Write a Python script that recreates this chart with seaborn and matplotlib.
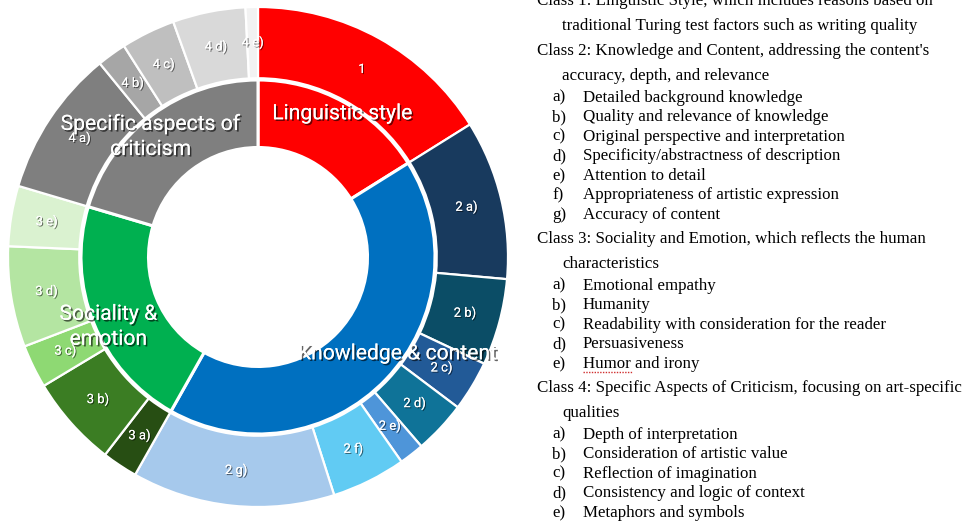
import numpy as np
import matplotlib
matplotlib.use("Agg")
import matplotlib.pyplot as plt
import matplotlib.patheffects as pe
import seaborn as sns

# ---------------- data ----------------
inner_labels = ["Linguistic style", "Knowledge & content", "Sociality &\nemotion",
                "Specific aspects of\ncriticism"]
inner_colors = ["#FF0000", "#0070C0", "#00B050", "#7F7F7F"]

outer_labels = ["1", "2 a)", "2 b)", "2 c)", "2 d)", "2 e)", "2 f)", "2 g)",
                "3 a)", "3 b)", "3 c)", "3 d)", "3 e)",
                "4 a)", "4 b)", "4 c)", "4 d)", "4 e)"]
outer_values = [16.1, 10.3, 5.6, 3.25, 3.4, 1.6, 4.8, 13.1,
                2.3, 5.9, 2.8, 6.5, 3.9,
                9.5, 1.9, 3.5, 4.7, 0.8]
outer_group = [0, 1, 1, 1, 1, 1, 1, 1, 2, 2, 2, 2, 2, 3, 3, 3, 3, 3]
outer_colors = ["#FF0000",
                "#183A5E", "#0B4D66", "#225A97", "#0F7398", "#4E95D9", "#61CBF3", "#A6C9EC",
                "#274E13", "#3B7D23", "#8ED973", "#B4E5A2", "#DAF2D0",
                "#7F7F7F", "#A6A6A6", "#BFBFBF", "#D9D9D9", "#F2F2F2"]
inner_values = [sum(v for v, g in zip(outer_values, outer_group) if g == k) for k in range(4)]

legend_lines = [
    ("class", "Class 1: Linguistic Style, which includes reasons based on"),
    ("cont", "traditional Turing test factors such as writing quality"),
    ("class", "Class 2: Knowledge and Content, addressing the content's"),
    ("cont", "accuracy, depth, and relevance"),
    ("item", "a)", "Detailed background knowledge"),
    ("item", "b)", "Quality and relevance of knowledge"),
    ("item", "c)", "Original perspective and interpretation"),
    ("item", "d)", "Specificity/abstractness of description"),
    ("item", "e)", "Attention to detail"),
    ("item", "f)", "Appropriateness of artistic expression"),
    ("item", "g)", "Accuracy of content"),
    ("class", "Class 3: Sociality and Emotion, which reflects the human"),
    ("cont", "characteristics"),
    ("item", "a)", "Emotional empathy"),
    ("item", "b)", "Humanity"),
    ("item", "c)", "Readability with consideration for the reader"),
    ("item", "d)", "Persuasiveness"),
    ("item", "e)", "Humor and irony"),
    ("class", "Class 4: Specific Aspects of Criticism, focusing on art-specific"),
    ("cont", "qualities"),
    ("item", "a)", "Depth of interpretation"),
    ("item", "b)", "Consideration of artistic value"),
    ("item", "c)", "Reflection of imagination"),
    ("item", "d)", "Consistency and logic of context"),
    ("item", "e)", "Metaphors and symbols"),
]

# ---------------- figure ----------------
sns.set_theme(style="white")
plt.rcParams["font.family"] = ["Roboto", "DejaVu Sans"]

W, H = 968, 525
fig = plt.figure(figsize=(W / 100, H / 100), dpi=100)
fig.patch.set_facecolor("white")

ax = fig.add_axes([8 / W, 18 / H, 500 / W, 500 / H])
ax.axis("off")

R_OUT, W_OUT = 1.0, 0.285
R_IN, W_IN = 0.708, 0.27

ax.pie(outer_values, radius=R_OUT, colors=outer_colors, startangle=90, counterclock=False,
       wedgeprops=dict(width=W_OUT, edgecolor="white", linewidth=1.6))
ax.pie(inner_values, radius=R_IN, colors=inner_colors, startangle=90, counterclock=False,
       wedgeprops=dict(width=W_IN, edgecolor="white", linewidth=2.2))
ax.set_xlim(-1, 1)
ax.set_ylim(-1, 1)
ax.set_aspect("equal")

shadow_small = [pe.withSimplePatchShadow(offset=(0.8, -0.8), shadow_rgbFace="black", alpha=0.55),
                pe.Normal()]
shadow_big = [pe.withSimplePatchShadow(offset=(1.2, -1.2), shadow_rgbFace="black", alpha=0.6),
              pe.Normal()]

# outer labels at slice mid-angles (clockwise from top)
tot = sum(outer_values)
cum = np.cumsum([0] + outer_values)
r_lab = R_OUT - W_OUT / 2
for i, lab in enumerate(outer_labels):
    mid = (cum[i] + cum[i + 1]) / 2 / tot * 2 * np.pi
    ax.text(r_lab * np.sin(mid), r_lab * np.cos(mid), lab, color="white",
            fontsize=9.4, ha="center", va="center", path_effects=shadow_small, zorder=5)

# inner labels
tot_in = sum(inner_values)
cum_in = np.cumsum([0] + inner_values)
ang_offset = [1.5, -9.0, -3.0, -5.0]
rad = [0.665, 0.68, 0.66, 0.645]
for i, lab in enumerate(inner_labels):
    mid = np.deg2rad((cum_in[i] + cum_in[i + 1]) / 2 / tot_in * 360 + ang_offset[i])
    ax.text(rad[i] * np.sin(mid), rad[i] * np.cos(mid), lab, color="white",
            fontsize=15.2, ha="center", va="center", linespacing=1.4,
            path_effects=shadow_big, zorder=6)

# ---------------- right-hand text ----------------
serif = ["Liberation Serif", "DejaVu Serif"]
fs = 12.2
y = 0.0
prev = None
gaps = {("class", "cont"): 25, ("cont", "class"): 25, ("cont", "item"): 21.5,
        ("item", "item"): 19.6, ("item", "class"): 24}
for line in legend_lines:
    kind = line[0]
    if prev is not None:
        y += gaps[(prev, kind)]
    base = y + 5
    yf = 1 - base / H
    if kind == "class":
        fig.text(537 / W, yf, line[1], fontsize=fs, family=serif, color="black",
                 ha="left", va="baseline")
    elif kind == "cont":
        fig.text(562 / W, yf, line[1], fontsize=fs, family=serif, color="black",
                 ha="left", va="baseline")
    else:
        fig.text(552 / W, yf, line[1], fontsize=fs, family=serif, color="black",
                 ha="left", va="baseline")
        fig.text(583 / W, yf, line[2], fontsize=fs, family=serif, color="black",
                 ha="left", va="baseline")
        if line[2].startswith("Humor"):
            fig.add_artist(plt.Line2D([583 / W, 632 / W], [yf - 4 / H, yf - 4 / H],
                                      color="#D03030", lw=1.0, ls=(0, (1, 1)),
                                      transform=fig.transFigure))
    prev = kind

fig.savefig("out.png", dpi=100, facecolor="white")
